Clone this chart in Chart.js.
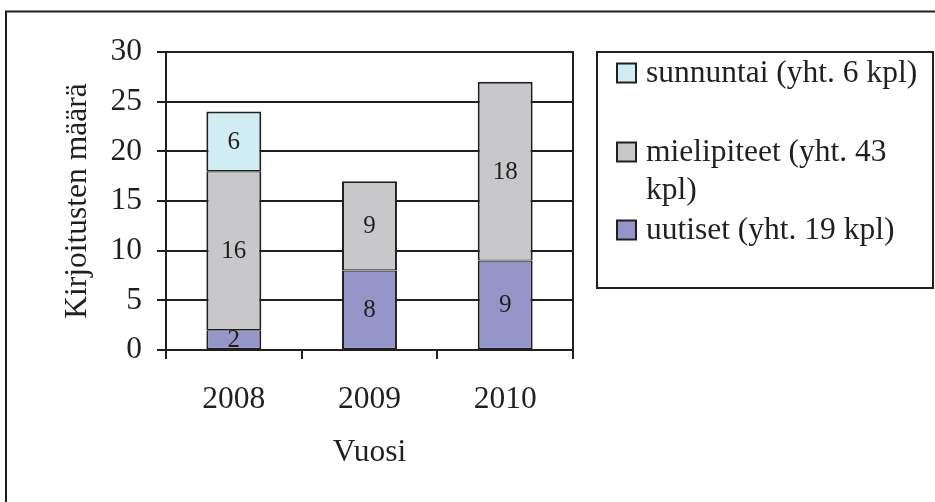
<!DOCTYPE html>
<html><head><meta charset="utf-8">
<script src="https://cdn.jsdelivr.net/npm/chart.js@4.4.0/dist/chart.umd.min.js"></script>
<style>html,body{margin:0;padding:0;background:#fff;overflow:hidden}canvas{display:block}</style>
</head><body>
<canvas id="c" width="935" height="502"></canvas>
<script>
// ---- data ----
const years = ['2008', '2009', '2010'];
const uutiset = [2, 8, 9];
const mielipiteet = [16, 9, 18];
const sunnuntai = [6, null, null];
const yTickValues = [0, 5, 10, 15, 20, 25, 30];
const nameUutiset = ['uutiset (yht. 19 kpl)'];
const nameMielipiteet = ['mielipiteet (yht. 43', 'kpl)'];
const nameSunnuntai = ['sunnuntai (yht. 6 kpl)'];
const yTitle = 'Kirjoitusten määrä';
const xTitle = 'Vuosi';

// ---- style ----
const INK = '#231F20';
const FAM = '"Liberation Serif", "Times New Roman", "DejaVu Serif", serif';
const FS = 31.5;
const COL_U = '#9595C9', COL_M = '#C8C8CA', COL_S = '#CFEDF3';

function topWidth(ctx) {
  if (!ctx || ctx.dataIndex === undefined) return 2;
  const ds = ctx.chart.data.datasets;
  for (let k = ctx.datasetIndex + 1; k < ds.length; k++) {
    const v = ds[k].data[ctx.dataIndex];
    if (v !== null && v !== undefined && v !== 0) return 1.2;
  }
  return 2;
}
const bw = ctx => ({ top: topWidth(ctx), bottom: 1.2, left: 2, right: 2 });

const framePlugin = {
  id: 'frame',
  beforeDraw(chart) {
    const c = chart.ctx;
    c.save();
    c.fillStyle = '#fff';
    c.fillRect(0, 0, chart.width, chart.height);
    c.strokeStyle = INK; c.lineWidth = 2;
    c.beginPath();
    c.moveTo(6, chart.height); c.lineTo(6, 11.5); c.lineTo(chart.width, 11.5);
    c.stroke();
    c.restore();
  },
  afterDatasetsDraw(chart) {
    const c = chart.ctx, a = chart.chartArea;
    c.save();
    c.strokeStyle = INK; c.lineWidth = 2;
    c.beginPath(); c.moveTo(a.right, a.top - 1); c.lineTo(a.right, a.bottom + 9); c.stroke();
    // value labels
    c.fillStyle = INK; c.font = '25px ' + FAM;
    c.textAlign = 'center'; c.textBaseline = 'middle';
    chart.data.datasets.forEach((ds, di) => {
      const meta = chart.getDatasetMeta(di);
      meta.data.forEach((el, i) => {
        const v = ds.data[i];
        if (v === null || v === undefined) return;
        const p = el.getProps(['x', 'y', 'base'], true);
        c.fillText(String(v), p.x, (p.y + p.base) / 2 + 1);
      });
    });
    c.restore();
  },
  afterDraw(chart) {
    const c = chart.ctx;
    const box = { l: 597, t: 52, r: 933, b: 288 };
    c.save();
    c.strokeStyle = INK; c.lineWidth = 2;
    c.strokeRect(box.l, box.t, box.r - box.l, box.b - box.t);
    const rows = [{ di: 2, y: 73 }, { di: 1, y: 152 }, { di: 0, y: 230 }];
    c.font = FS + 'px ' + FAM; c.textAlign = 'left'; c.textBaseline = 'middle';
    rows.forEach(r => {
      const ds = chart.data.datasets[r.di];
      c.fillStyle = ds.backgroundColor;
      c.fillRect(617, r.y - 9.5, 19, 19);
      c.lineWidth = 2; c.strokeStyle = INK;
      c.strokeRect(617, r.y - 9.5, 19, 19);
      c.fillStyle = INK;
      ds.label.forEach((line, j) => c.fillText(line, 646, r.y + 1 + j * 38));
    });
    c.restore();
  }
};

new Chart(document.getElementById('c'), {
  type: 'bar',
  data: {
    labels: years,
    datasets: [
      { label: nameUutiset, data: uutiset, backgroundColor: COL_U },
      { label: nameMielipiteet, data: mielipiteet, backgroundColor: COL_M },
      { label: nameSunnuntai, data: sunnuntai, backgroundColor: COL_S }
    ]
  },
  options: {
    responsive: false, animation: false, devicePixelRatio: 1,
    layout: { padding: { top: 52, right: 362, bottom: 0, left: 0 } },
    datasets: { bar: { barPercentage: 0.405, categoryPercentage: 1, borderColor: INK, borderWidth: bw, borderSkipped: false } },
    plugins: { legend: { display: false }, tooltip: { enabled: false } },
    scales: {
      x: {
        stacked: true,
        ticks: { color: INK, font: { family: FAM, size: FS }, padding: 22, maxRotation: 0 },
        grid: { offset: true, drawOnChartArea: false, drawTicks: true, tickLength: 9, color: INK, lineWidth: 2 },
        border: { display: true, color: INK, width: 2 },
        title: { display: true, text: xTitle, color: INK, font: { family: FAM, size: FS }, padding: { top: 0, bottom: 30 } },
        afterFit: s => { s.height = 152; }
      },
      y: {
        stacked: true, min: 0, max: 30,
        afterBuildTicks: s => { s.ticks = yTickValues.map(v => ({ value: v })); },
        ticks: { color: INK, font: { family: FAM, size: FS }, padding: 15 },
        grid: { color: INK, lineWidth: 2, tickLength: 9, drawTicks: true },
        border: { display: true, color: INK, width: 2 },
        title: { display: true, text: yTitle, color: INK, font: { family: FAM, size: FS }, padding: { top: 59, bottom: 0 } },
        afterFit: s => { s.width = 166; }
      }
    }
  },
  plugins: [framePlugin]
});
</script>
</body></html>
